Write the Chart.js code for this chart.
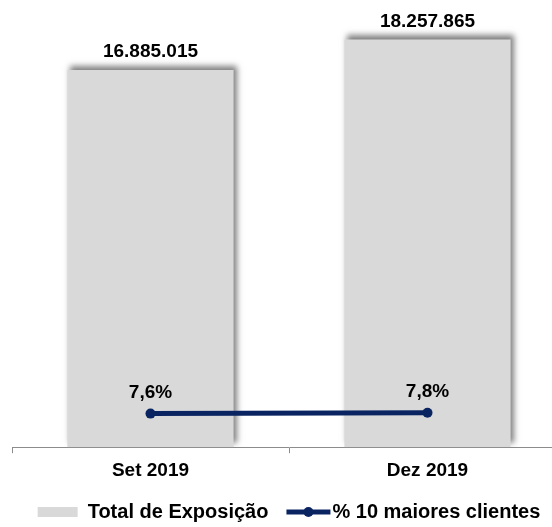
<!DOCTYPE html>
<html>
<head>
<meta charset="utf-8">
<script src="https://cdn.jsdelivr.net/npm/chart.js@4/dist/chart.umd.min.js"></script>
<style>
  html, body { margin: 0; padding: 0; background: #fff; overflow: hidden; }
  #wrap { width: 552px; height: 527px; overflow: hidden; }
  canvas { display: block; }
</style>
</head>
<body>
<div id="wrap"><canvas id="c" width="578" height="534"></canvas></div>
<script>
const categories = ["Set 2019", "Dez 2019"];
const totalExposicao = [16885015, 18257865];
const top10Pct = [7.6, 7.8];
const seriesNames = ["Total de Exposição", "% 10 maiores clientes"];

const FONT = "'Liberation Sans', Arial, sans-serif";
const BAR_COLOR = "#d9d9d9";
const LINE_COLOR = "#0a2461";

function fmtThousands(v) {
  return String(Math.round(v)).replace(/\B(?=(\d{3})+(?!\d))/g, ".");
}
function fmtPct(v) {
  return v.toFixed(1).replace(".", ",") + "%";
}

const shadowPlugin = {
  id: "barShadow",
  beforeDatasetDraw(chart, args) {
    if (args.index !== 0) return;
    const ctx = chart.ctx;
    ctx.save();
    ctx.shadowColor = "rgba(0,0,0,0.5)";
    ctx.shadowBlur = 6;
    ctx.shadowOffsetX = 3;
    ctx.shadowOffsetY = -4;
  },
  afterDatasetDraw(chart, args) {
    if (args.index !== 0) return;
    chart.ctx.restore();
  }
};

const labelPlugin = {
  id: "valueLabels",
  afterDatasetsDraw(chart) {
    const ctx = chart.ctx;
    ctx.save();
    ctx.fillStyle = "#000";
    ctx.font = "bold 19px " + FONT;
    ctx.textAlign = "center";
    ctx.textBaseline = "middle";
    const barMeta = chart.getDatasetMeta(0);
    barMeta.data.forEach((el, i) => {
      ctx.fillText(fmtThousands(totalExposicao[i]), el.x, el.y - 18);
    });
    const lineMeta = chart.getDatasetMeta(1);
    lineMeta.data.forEach((el, i) => {
      ctx.fillText(fmtPct(top10Pct[i]), el.x, el.y - 21);
    });
    ctx.restore();
  }
};

const legendLinePlugin = {
  id: "legendLine",
  afterDraw(chart) {
    const lg = chart.legend;
    if (!lg || !lg.legendHitBoxes || lg.legendHitBoxes.length < 2) return;
    const hb = lg.legendHitBoxes[1];
    const ctx = chart.ctx;
    const cy = hb.top + hb.height / 2;
    const x0 = hb.left + 4;
    const x1 = hb.left + 48;
    ctx.save();
    ctx.strokeStyle = LINE_COLOR;
    ctx.lineWidth = 5;
    ctx.beginPath();
    ctx.moveTo(x0, cy);
    ctx.lineTo(x1, cy);
    ctx.stroke();
    ctx.fillStyle = LINE_COLOR;
    ctx.beginPath();
    ctx.arc((x0 + x1) / 2, cy, 5, 0, Math.PI * 2);
    ctx.fill();
    ctx.restore();
  }
};

new Chart(document.getElementById("c"), {
  data: {
    labels: categories,
    datasets: [
      {
        type: "bar",
        label: seriesNames[0],
        data: totalExposicao,
        backgroundColor: BAR_COLOR,
        borderWidth: 0,
        barPercentage: 0.6,
        categoryPercentage: 1.0,
        yAxisID: "y",
        order: 1
      },
      {
        type: "line",
        label: seriesNames[1],
        data: top10Pct,
        borderColor: LINE_COLOR,
        backgroundColor: LINE_COLOR,
        borderWidth: 5,
        pointRadius: 5,
        pointBackgroundColor: LINE_COLOR,
        pointBorderWidth: 0,
        tension: 0,
        yAxisID: "y2",
        order: 0
      }
    ]
  },
  options: {
    responsive: false,
    animation: false,
    devicePixelRatio: 1,
    layout: { padding: { left: 12, right: 12, top: 0, bottom: 2 } },
    scales: {
      x: {
        offset: true,
        border: { display: true, color: "#8c8c8c", width: 1 },
        grid: {
          display: true,
          offset: true,
          drawOnChartArea: false,
          drawTicks: true,
          tickLength: 6,
          color: "#8c8c8c"
        },
        ticks: {
          color: "#000",
          font: { family: FONT, size: 19, weight: "bold" },
          padding: 6
        }
      },
      y: {
        display: false,
        min: 0,
        max: 19800000
      },
      y2: {
        display: false,
        min: 0,
        max: 100
      }
    },
    plugins: {
      tooltip: { enabled: false },
      legend: {
        position: "bottom",
        labels: {
          color: "#000",
          font: { family: FONT, size: 20, weight: "bold" },
          boxWidth: 40,
          boxHeight: 10,
          padding: 14,
          generateLabels(chart) {
            return chart.data.datasets.map((ds, i) => ({
              text: ds.label,
              fillStyle: i === 0 ? BAR_COLOR : "rgba(0,0,0,0)",
              strokeStyle: "rgba(0,0,0,0)",
              lineWidth: 0,
              hidden: false,
              datasetIndex: i,
              fontColor: "#000"
            }));
          }
        }
      }
    }
  },
  plugins: [shadowPlugin, labelPlugin, legendLinePlugin]
});
</script>
</body>
</html>
